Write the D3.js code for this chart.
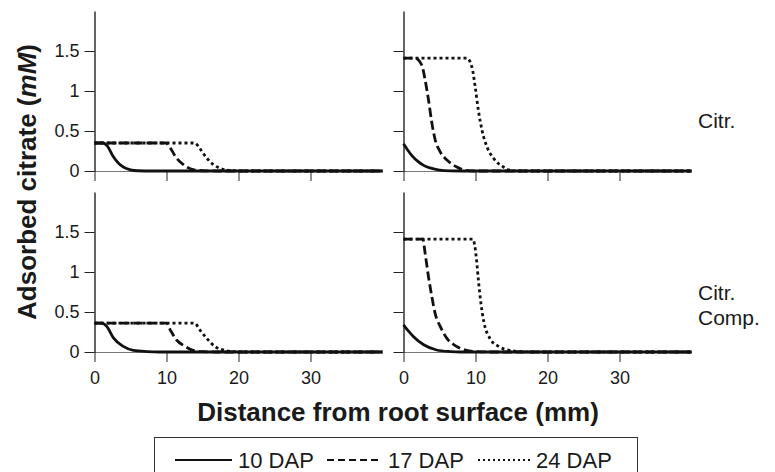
<!DOCTYPE html>
<html>
<head>
<meta charset="utf-8">
<script src="https://cdn.jsdelivr.net/npm/d3@7"></script>
<style>
  body { margin: 0; background: #fff; }
  text { font-family: "Liberation Sans", Arial, sans-serif; fill: #1a1a1a; }
</style>
</head>
<body>
<div id="chart"></div>
<script>
const seriesNames = ["10 DAP", "17 DAP", "24 DAP"];
const rowLabels = [["Citr."], ["Citr.", "Comp."]];
const xTicks = [0, 10, 20, 30];
const yTicks = [0, 0.5, 1, 1.5];

// [distance (mm), adsorbed citrate (mM)]
const topLeft10 = [[0, .35], [1.2, .35], [1.8, .31], [2.6, .18], [3.3, .1], [4, .05], [5, .015], [6, .003], [8, 0], [40, 0]];
const topLeft17 = [[0, .35], [9.9, .35], [10.5, .29], [11.4, .16], [12.2, .09], [12.8, .05], [14, .012], [15.5, .002], [17, 0], [40, 0]];
const topLeft24 = [[0, .35], [13.9, .35], [14.5, .3], [15.1, .22], [15.8, .14], [16.5, .08], [17.3, .04], [18.2, .015], [19.5, .003], [21, 0], [40, 0]];

const topRight10 = [[0, .34], [0.6, .26], [1.2, .19], [2, .12], [2.8, .07], [3.8, .035], [5, .012], [6.5, .002], [8, 0], [40, 0]];
const topRight17 = [[0, 1.41], [1.6, 1.41], [2.55, 1.32], [3, 1.14], [3.47, .89], [3.94, .6], [4.4, .39], [5.1, .24], [6, .14], [7.4, .05], [8.6, .01], [10, 0], [40, 0]];
const topRight24 = [[0, 1.41], [8.8, 1.41], [9.5, 1.3], [9.96, 1.05], [10.4, .76], [10.9, .51], [11.6, .3], [12.5, .16], [13.7, .06], [14.8, .01], [16, 0], [40, 0]];

const botLeft10 = [[0, .36], [1, .36], [1.7, .32], [2.6, .18], [4, .07], [5.4, .02], [7.3, .005], [9, 0], [40, 0]];
const botLeft17 = [[0, .36], [10, .36], [10.5, .28], [11.4, .15], [12.6, .07], [13.7, .02], [15, .004], [17, 0], [40, 0]];
const botLeft24 = [[0, .36], [13.9, .36], [14.6, .28], [15.5, .18], [16.7, .07], [18.1, .02], [19.5, .004], [21, 0], [40, 0]];

const botRight10 = [[0, .34], [0.7, .26], [1.4, .19], [2.8, .09], [4.6, .025], [6.5, .005], [8, 0], [40, 0]];
const botRight17 = [[0, 1.41], [2.69, 1.41], [3.01, 1.23], [3.47, .94], [3.94, .69], [4.4, .48], [5.1, .32], [6.03, .17], [7.18, .08], [8.6, .025], [10.2, .005], [12, 0], [40, 0]];
const botRight24 = [[0, 1.41], [9.63, 1.41], [10.1, 1.19], [10.4, .9], [10.75, .61], [11.2, .36], [12, .17], [13.2, .07], [14.8, .02], [16.2, .005], [18, 0], [40, 0]];

const panels = [
  {row: 0, col: 0, series: [topLeft10, topLeft17, topLeft24]},
  {row: 0, col: 1, series: [topRight10, topRight17, topRight24]},
  {row: 1, col: 0, series: [botLeft10, botLeft17, botLeft24]},
  {row: 1, col: 1, series: [botRight10, botRight17, botRight24]}
];

const dashes = [null, "9,4", "3,3"];
const legendDashes = [null, "7,4", "2,3"];

const svg = d3.select("#chart").append("svg").attr("width", 775).attr("height", 472);

const colX = [94.5, 403.5];
const rowY = [11, 192];
const pw = 288, ph = 160;

const x = d3.scaleLinear().domain([0, 40]).range([0, pw]);
const y = d3.scaleLinear().domain([0, 2]).range([ph, 0]);

const line = d3.line().x(d => x(d[0])).y(d => y(d[1])).curve(d3.curveMonotoneX);

for (let p of panels) {
  const g = svg.append("g").attr("transform", `translate(${colX[p.col]},${rowY[p.row]})`);

  const xa = g.append("g").attr("transform", `translate(0,${ph})`)
    .call(d3.axisBottom(x).tickValues(xTicks).tickSize(10).tickSizeOuter(0).tickPadding(9)
      .tickFormat(p.row === 1 ? d3.format("d") : ""));
  xa.select(".domain").attr("stroke", "#777").attr("stroke-width", 1);

  const ya = g.append("g")
    .call(d3.axisLeft(y).tickValues(yTicks).tickSize(10).tickSizeOuter(0).tickPadding(5)
      .tickFormat(p.col === 0 ? d => String(d) : ""));
  ya.select(".domain").attr("stroke", "#111").attr("stroke-width", 1.3);

  g.selectAll(".tick line").attr("stroke", "#222");
  g.selectAll(".tick text").style("font-size", "18px").attr("fill", "#333");
  g.selectAll(".domain, .tick text").style("font-family", "Liberation Sans, Arial, sans-serif");

  g.selectAll("path.curve").data(p.series)
    .join("path")
      .attr("class", "curve")
      .attr("d", line)
      .attr("fill", "none")
      .attr("stroke", "#111")
      .attr("stroke-width", 2.8)
      .attr("stroke-dasharray", (_, i) => dashes[i]);
}

// row labels
rowLabels.forEach((lines, r) => {
  const t = svg.append("text")
    .attr("x", 698)
    .attr("y", r === 0 ? 128 : 300)
    .style("font-size", "21px");
  lines.forEach((s, i) => t.append("tspan").attr("x", 698).attr("dy", i ? 25 : 0).text(s));
});

// axis titles
svg.append("text")
  .attr("x", 398).attr("y", 421)
  .attr("text-anchor", "middle")
  .style("font-size", "26px").style("font-weight", "bold")
  .text("Distance from root surface (mm)");

const yt = svg.append("text")
  .attr("transform", "translate(36,182) rotate(-90)")
  .attr("text-anchor", "middle")
  .style("font-size", "26px").style("font-weight", "bold");
yt.append("tspan").text("Adsorbed citrate (");
yt.append("tspan").style("font-style", "italic").text("mM");
yt.append("tspan").text(")");

// legend
const legendX = [[175, 232], [327, 382], [478, 530]];
svg.append("rect")
  .attr("x", 154.5).attr("y", 437.5).attr("width", 483).attr("height", 45)
  .attr("fill", "none").attr("stroke", "#333").attr("stroke-width", 1);

const items = svg.selectAll("g.legend").data(seriesNames)
  .join("g").attr("class", "legend");
items.append("line")
  .attr("x1", (_, i) => legendX[i][0]).attr("x2", (_, i) => legendX[i][1])
  .attr("y1", 460).attr("y2", 460)
  .attr("stroke", "#111").attr("stroke-width", 2)
  .attr("stroke-dasharray", (_, i) => legendDashes[i]);
items.append("text")
  .attr("x", (_, i) => legendX[i][1] + 6)
  .attr("y", 467.5)
  .style("font-size", "22px")
  .text(d => d);
</script>
</body>
</html>
